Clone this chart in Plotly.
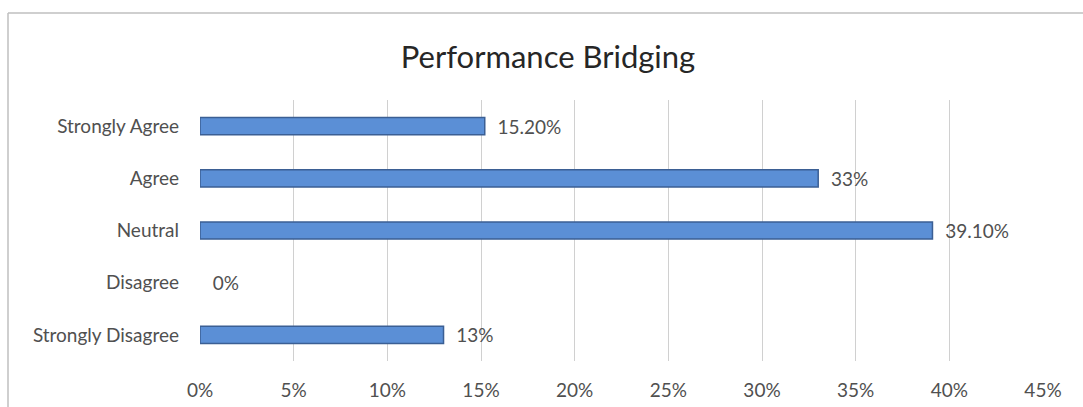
import plotly.graph_objects as go

# Survey responses for "Performance Bridging"
categories = ["Strongly Disagree", "Disagree", "Neutral", "Agree", "Strongly Agree"]
shares = [13, 0, 39.1, 33, 15.2]
share_labels = ["13%", "0%", "39.10%", "33%", "15.20%"]
tick_values = [0, 5, 10, 15, 20, 25, 30, 35, 40, 45]
tick_labels = ["0%", "5%", "10%", "15%", "20%", "25%", "30%", "35%", "40%", "45%"]

W, H = 1083, 407
L, R, T, B = 200, 40, 100, 46

font_family = "Lato, 'Open Sans', sans-serif"
label_color = "#505050"
label_size = 19

# zero-length bars get no outline
outline_widths = [1.5 if v > 0 else 0 for v in shares]

fig = go.Figure(
    go.Bar(
        y=categories,
        x=shares,
        orientation="h",
        text=share_labels,
        texttemplate="\u00a0\u00a0%{text}",
        textposition="outside",
        constraintext="none",
        cliponaxis=False,
        textfont=dict(family=font_family, size=label_size, color=label_color),
        marker=dict(color="#5B8FD6", line=dict(color="#3B5F94", width=outline_widths)),
        hoverinfo="skip",
    )
)

# chart frame (left and top edges of the outer border)
pw = W - L - R
ph = H - T - B
fx0 = (8 - L) / pw
fy1 = 1 + (T - 13) / ph
fig.add_shape(type="line", xref="paper", yref="paper",
              x0=fx0, x1=(W + 5 - L) / pw, y0=fy1, y1=fy1,
              line=dict(color="#BFBFBF", width=1.5))
fig.add_shape(type="line", xref="paper", yref="paper",
              x0=fx0, x1=fx0, y0=-(B + 5) / ph, y1=fy1,
              line=dict(color="#BFBFBF", width=1.5))

fig.update_layout(
    width=W,
    height=H,
    margin=dict(l=L, r=R, t=T, b=B),
    paper_bgcolor="white",
    plot_bgcolor="white",
    showlegend=False,
    bargap=0.67,
    title=dict(
        text="Performance Bridging",
        x=548 / W,
        xanchor="center",
        y=1 - 57 / H,
        yanchor="middle",
        font=dict(family=font_family, size=31, color="#262626"),
    ),
    xaxis=dict(
        range=[0, 45],
        tickvals=tick_values,
        ticktext=tick_labels,
        showgrid=True,
        gridcolor="#D0D0D0",
        gridwidth=1,
        zeroline=False,
        showline=False,
        ticks="",
        ticklabelstandoff=16,
        automargin=False,
        tickfont=dict(family=font_family, size=label_size, color=label_color),
        fixedrange=True,
    ),
    yaxis=dict(
        categoryorder="array",
        categoryarray=categories,
        showgrid=False,
        zeroline=False,
        showline=False,
        ticks="",
        ticklabelstandoff=20,
        automargin=False,
        tickfont=dict(family=font_family, size=label_size, color=label_color),
        fixedrange=True,
    ),
)

fig.write_html("out.html")
